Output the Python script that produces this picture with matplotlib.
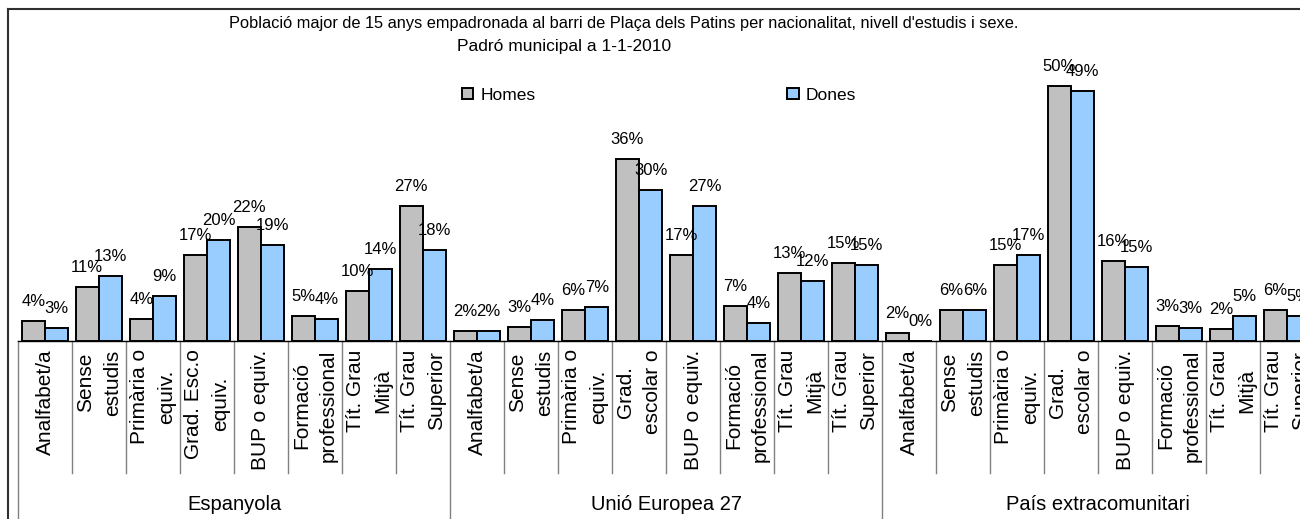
import numpy as np
import matplotlib
matplotlib.use("Agg")
import matplotlib.pyplot as plt
from matplotlib.lines import Line2D

plt.rcParams['font.family'] = ['Liberation Sans', 'DejaVu Sans']

# Data (shares of each group)
groups = ['Espanyola', 'Unió Europea 27', 'País extracomunitari']
cats_esp = ['Analfabet/a', 'Sense\nestudis', 'Primària o\nequiv.', 'Grad. Esc.o\nequiv.',
            'BUP o equiv.', 'Formació\nprofessional', 'Tít. Grau\nMitjà', 'Tít. Grau\nSuperior']
cats_other = ['Analfabet/a', 'Sense\nestudis', 'Primària o\nequiv.', 'Grad.\nescolar o',
              'BUP o equiv.', 'Formació\nprofessional', 'Tít. Grau\nMitjà', 'Tít. Grau\nSuperior']

esp_homes = [0.039, 0.106, 0.044, 0.169, 0.224, 0.050, 0.099, 0.266]
esp_dones = [0.026, 0.127, 0.088, 0.199, 0.189, 0.043, 0.142, 0.180]
ue_homes = [0.020, 0.027, 0.061, 0.358, 0.169, 0.069, 0.134, 0.154]
ue_dones = [0.020, 0.042, 0.066, 0.297, 0.266, 0.036, 0.119, 0.150]
ext_homes = [0.016, 0.062, 0.150, 0.501, 0.158, 0.030, 0.024, 0.062]
ext_dones = [0.000, 0.062, 0.169, 0.493, 0.146, 0.026, 0.050, 0.050]

homes = esp_homes + ue_homes + ext_homes
dones = esp_dones + ue_dones + ext_dones
labels = cats_esp + cats_other + cats_other

# figure in pixels
W, H = 1300, 519
fig = plt.figure(figsize=(W / 100, H / 100), dpi=100)

base_px = 341      # baseline, px from top
left_px = 18
cat_px = 54.0
ymax = 0.6
px_per_unit = 508.0
ax_h = ymax * px_per_unit
ax = fig.add_axes([left_px / W, (H - base_px) / H, len(homes) * cat_px / W, ax_h / H])
ax.patch.set_visible(False)

x = np.arange(len(homes))
w = 0.435
b1 = ax.bar(x - w / 2, homes, w, color='#C0C0C0', edgecolor='black', linewidth=1.4, label='Homes')
b2 = ax.bar(x + w / 2, dones, w, color='#99CCFF', edgecolor='black', linewidth=1.4, label='Dones')

for bars, vals in ((b1, homes), (b2, dones)):
    for r, v in zip(bars, vals):
        ax.annotate('{:.0%}'.format(v), (r.get_x() + r.get_width() / 2, v),
                    xytext=(0, 10.8), textcoords='offset points',
                    ha='center', va='baseline', fontsize=12)

ax.set_xlim(-0.5, len(homes) - 0.5)
ax.set_ylim(0, ymax)
ax.set_yticks([])
for s in ['left', 'right', 'top']:
    ax.spines[s].set_visible(False)
ax.spines['bottom'].set_color('black')
ax.spines['bottom'].set_linewidth(1.0)

ax.set_xticks(x)
ax.set_xticklabels(labels, rotation=90, ha='center', va='top',
                   multialignment='center', fontsize=15, linespacing=1.55)
ax.tick_params(axis='x', length=0, pad=6)

# separators between categories and between groups
trans = ax.get_xaxis_transform()
short = -132 / ax_h
for i in range(1, len(homes)):
    if i % 8 == 0:
        continue
    ax.plot([i - 0.5, i - 0.5], [0, short], color='#808080', lw=1,
            transform=trans, clip_on=False)
for g in range(len(groups) + 1):
    xb = g * 8 - 0.5
    ax.plot([xb, xb], [0, -1], color='#808080', lw=1, transform=trans, clip_on=False)

for g, name in enumerate(groups):
    ax.text(g * 8 + 3.5, -163 / ax_h, name, transform=trans,
            ha='center', va='center', fontsize=14.5)

# title
fig.text(624 / W, 1 - 28 / H,
         "Població major de 15 anys empadronada al barri de Plaça dels Patins per nacionalitat, nivell d'estudis i sexe.",
         ha='center', va='baseline', fontsize=11.8)
fig.text(564 / W, 1 - 51 / H, 'Padró municipal a 1-1-2010',
         ha='center', va='baseline', fontsize=12.5)

fig.legend(handles=[b1, b2], loc='center', bbox_to_anchor=(659 / W, 1 - 95 / H),
           ncol=2, frameon=False, fontsize=12.5, columnspacing=14.5,
           handlelength=0.66, handleheight=0.66, handletextpad=0.4)

# chart border (right and bottom edges lie outside the picture)
fig.add_artist(Line2D([8 / W, 8 / W], [0, 1 - 8.5 / H], color='#303030', lw=1.5))
fig.add_artist(Line2D([8 / W, 1], [1 - 8.5 / H, 1 - 8.5 / H], color='#303030', lw=1.5))

fig.savefig('out.png', dpi=100)
